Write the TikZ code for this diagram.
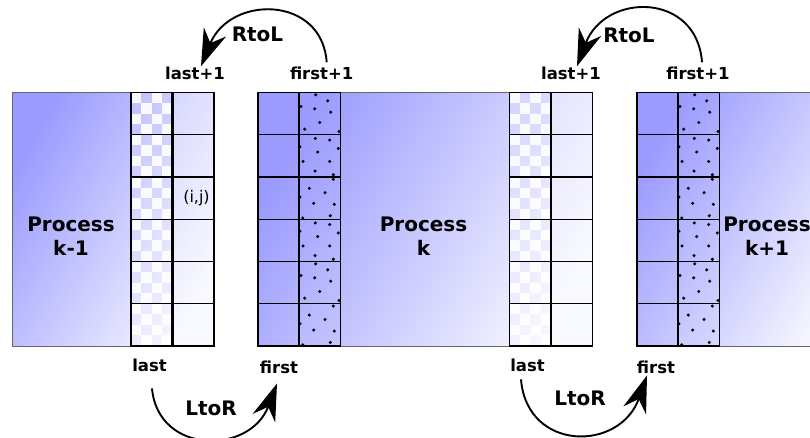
\documentclass[tikz,border=0pt]{standalone}
\usepackage{fontspec}
\setmainfont{DejaVu Sans}
\usetikzlibrary{arrows.meta}
\definecolor{gdark}{RGB}{155,155,255}
\definecolor{glight}{RGB}{245,245,255}
\tikzset{
  procbg/.style={draw=black!60, line width=0.8pt, top color=gdark, bottom color=glight, shading angle=60},
  rowline/.style={line width=1.2pt},
  colframe/.style={line width=1.9pt},
  colsep/.style={line width=2.4pt},
  lbl/.style={font=\bfseries\fontsize{16.5}{19}\selectfont, inner sep=0pt, anchor=base},
  biglbl/.style={font=\bfseries\fontsize{20}{24}\selectfont, inner sep=0pt, anchor=base},
  proc/.style={font=\bfseries\fontsize{20}{23.5}\selectfont, align=center, inner sep=0pt},
  flow/.style={line width=1.9pt, -{Stealth[length=37pt,width=24pt,inset=12pt]}},
  dotfill/.style={fill=black},
}
\newcommand\dotcellA{\foreach \a/\b in {16.7/2.3, 28.7/8.3, 2/14, 15.7/16.3, 31.7/19.7, 20.7/30, 5.7/36.7, 40/39} \fill[dotfill] (\a,\b) circle[radius=1.7pt];}
\newcommand\dotcellB{\foreach \a/\b in {16.3/3.7, 30.7/5.3, 39.3/13.7, 18.7/17.3, 1/12, 4/26.7, 30.7/26.7, 16/36.3, 34.3/40} \fill[dotfill] (\a,\b) circle[radius=1.7pt];}
\newcommand\dotcellC{\foreach \a/\b in {34.3/2.3, 10.3/11.3, 26/15.7, 14.7/26.3, 35.3/27.3, 31.3/38.7, 3.7/41, 1/20} \fill[dotfill] (\a,\b) circle[radius=1.7pt];}
\begin{document}
\begin{tikzpicture}[x=1pt,y=-1pt]
\useasboundingbox (0,0) rectangle (810,438);
\clip (0,0) rectangle (810,438);
% process backgrounds
\path[procbg] (12,92.5) rectangle (214,346);
\path[procbg] (258,92.5) rectangle (592.5,346);
\path[procbg] (637,92.5) rectangle (850,346);
% light columns
\foreach \cx in {172.5,551} \fill[white,opacity=0.35] (\cx,92.5) rectangle ++(41.5,253.5);
% checker columns
\foreach \cx in {131,509.5} {
  \fill[white,opacity=0.15] (\cx,92.5) rectangle ++(41.5,253.5);
  \foreach \i in {0,...,23} {
    \foreach \j in {0,...,3} {
      \pgfmathtruncatemacro\chk{mod(\i+\j,2)}
      \ifnum\chk=0
        \fill[white,opacity=0.9] (\cx+\j*10.375,92.5+\i*10.5625) rectangle ++(10.375,10.5625);
      \fi
    }
  }
}
% dotted columns
\foreach \dx in {299,678} {
  \foreach \r/\v in {0/A,1/B,2/C,3/B,4/A,5/C} {
    \begin{scope}[shift={(\dx,92.5+\r*42.25)}]
      \csname dotcell\v\endcsname
    \end{scope}
  }
}
% column frames and rows
\foreach \xa/\xb/\xc in {131/172.5/214, 258/299/340.5, 509.5/551/592.5, 637/678/719.5} {
  \foreach \k in {1,...,5} \draw[rowline] (\xa,92.5+\k*42.25) -- (\xc,92.5+\k*42.25);
  \draw[colframe] (\xa,92.5) rectangle (\xc,346);
  \draw[colsep] (\xb,92.5) -- (\xb,346);
}
% texts
\node[proc] (p1) at (71,236) {Process\\k-1};
\node[proc] (p2) at (423.5,236) {Process\\k};
\node[proc] (p3) at (767,236) {Process\\k+1};
\node[font=\fontsize{16}{19}\selectfont, inner sep=0pt] (ij) at (196.5,198) {(i,j)};
\node[lbl] (l1) at (195,80) {last+1};
\node[lbl] (f1) at (321.7,80) {first+1};
\node[lbl] (l2) at (571,80) {last+1};
\node[lbl] (f2) at (698,80) {first+1};
\node[lbl] (la1) at (149.5,371) {last};
\node[lbl] (fi1) at (279,373) {first};
\node[lbl] (la2) at (527.5,371) {last};
\node[lbl] (fi2) at (656,373) {first};
\node[biglbl] (r1) at (257.5,42) {RtoL};
\node[biglbl] (r2) at (629,42.5) {RtoL};
\node[biglbl] (t1) at (211,415) {LtoR};
\node[biglbl] (t2) at (580,405) {LtoR};
% arrows
\draw[flow] ([xshift=5pt,yshift=5pt]f1.north) .. controls (322,-5) and (230,-5) .. ([xshift=6pt,yshift=1pt]l1.north);
\draw[flow] ([xshift=4pt,yshift=5pt]f2.north) .. controls (697,-8) and (605,-8) .. ([xshift=6pt,yshift=1pt]l2.north);
\draw[flow] ([xshift=2.5pt,yshift=-17pt]la1.south) .. controls (158,455) and (250,455) .. ([xshift=-2pt,yshift=-10pt]fi1.south);
\draw[flow] ([xshift=-6.5pt,yshift=-8pt]la2.south) .. controls (527,452) and (620,452) .. ([xshift=-9pt,yshift=-2pt]fi2.south);
\end{tikzpicture}
\end{document}
